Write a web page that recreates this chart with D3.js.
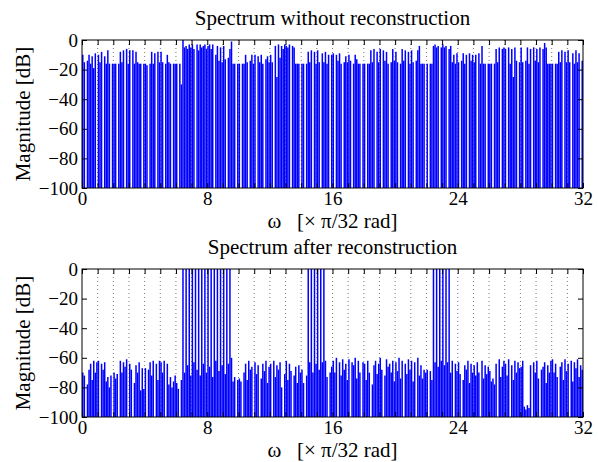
<!DOCTYPE html>
<html lang="en">
<head>
<meta charset="utf-8">
<title>Spectrum</title>
<script src="https://d3js.org/d3.v7.min.js"></script>
<style>
    body { margin: 0; background: #fff; }
    text { font-family: "Liberation Serif", "Times New Roman", serif; fill: #000; }
</style>
</head>
<body>
<script>
var w = 598;
var h = 462;
var left = 82, right = 583;
var panelTops = [40, 269];
var panelH = 148;

var titles = ["Spectrum without reconstruction", "Spectrum after reconstruction"];
var xLabel = "\u03c9   [\u00d7 \u03c0/32 rad]";
var yLabel = "Magnitude [dB]";
var xTickLabels = [0, 8, 16, 24, 32];
var yTicks = [-100, -80, -60, -40, -20, 0];
var binsPerUnit = 10;

// magnitude in dB, one row per unit of pi/32 rad, null = below -100 dB
var magBefore = [
    [-10,-15,null,-14,-10,-16,-11,-19,-9,null],
    [-10,-15,-8,null,-11,-16,-7,-16,null,-16],
    [-16,-16,null,-16,-8,-15,-7,null,-6,-16],
    [-7,null,-7,-16,-8,-15,-16,-16,null,-16],
    [-16,-17,null,-16,-8,-16,-9,null,-8,-15],
    [-8,-15,null,-16,-10,-15,-16,null,-16,-16],
    [-16,null,-16,-30,0,-5,-4,-6,-3,-5],
    [-3,-6,null,-3,-7,-3,-5,-4,-3,-6],
    [-4,-3,-6,-3,null,-10,-4,-14,-5,-15],
    [-4,-13,null,-12,-6,-1,-16,-16,null,-16],
    [-16,null,-16,-16,-10,-15,null,-14,-10,-16],
    [-10,null,-11,-15,-10,-16,null,-13,-11,-15],
    [-10,-15,null,-4,-25,-3,-12,-4,-6,-3],
    [-4,-5,-3,null,-4,-5,-16,-16,-16,null],
    [-16,-16,null,-16,-8,-15,-7,null,-8,-16],
    [-7,-15,null,-9,-15,-8,-16,-10,null,-10],
    [-9,null,-10,-14,-9,-16,null,-15,-11,-15],
    [-10,-14,null,-16,-10,-13,-16,-16,null,-16],
    [-16,null,-16,-16,-7,-15,-6,null,-8,-15],
    [-6,null,-7,-14,-8,-16,null,-15,-6,-14],
    [-8,-15,null,-16,-6,-14,-7,null,-8,-16],
    [-7,-15,null,-14,-7,-4,-16,-16,-16,null],
    [-16,null,-16,-16,-4,-3,-5,-4,null,-5],
    [-3,-5,-4,null,-6,-4,-15,-10,-16,-9],
    [-15,null,-14,-9,-16,-10,null,-9,-14,-10],
    [-15,-10,null,-9,-16,-4,-16,-16,null,-16],
    [-16,-16,null,-16,-6,-15,-5,null,-6,-5],
    [-6,null,-5,-16,-6,-25,-5,-14,null,-15],
    [-5,-15,null,-14,-5,-16,-6,null,-5,-14],
    [-6,-15,-5,null,-6,-2,-5,-16,-16,-16],
    [-16,null,-16,-16,-8,-15,-7,null,-8,-15],
    [-7,-15,null,-9,-16,-7,-15,-9,null,-14]
];

var magAfter = [
    [-70,-72,null,-78,-68,-64,-75,-62,-70,-63],
    [-62,null,-64,-68,-63,-76,-73,-80,-72,null],
    [-70,-74,-71,null,-62,-70,-63,-66,-61,null],
    [-64,-68,null,-77,-65,-70,-63,-82,-67,-81],
    [-67,null,-68,-63,-72,-62,null,-64,-75,-62],
    [-63,-70,-62,null,-64,-78,-73,-80,-76,-72],
    [-77,-81,null,-75,0,-70,0,-65,0,-72],
    [0,-63,0,-68,0,-72,0,-64,0,-70],
    [0,-66,0,-73,0,-62,0,-69,0,-65],
    [0,-71,0,-64,0,-60,-76,-73,null,-75],
    [-74,-76,null,-70,-64,-75,-62,-68,-66,null],
    [-63,-71,-65,null,-74,-64,-69,-62,-77,-66],
    [-64,null,-62,-73,-65,-68,-63,-80,null,-71],
    [-62,-75,-64,-69,null,-72,-66,-77,-65,-70],
    [-68,-77,null,-72,0,-63,0,-70,0,-64],
    [0,-68,0,-63,0,-62,-73,null,-70,-66],
    [-62,-70,-60,null,-63,-72,-61,-68,-64,-75],
    [-61,null,-63,-65,-60,-74,-62,-70,null,-63],
    [-64,-75,-62,-70,null,-78,-65,-62,-71,-64],
    [-60,-68,null,-72,-61,-66,-64,-70,-62,-76],
    [-63,-69,-60,-74,-62,null,-64,-71,-61,-68],
    [-62,-76,-63,null,-60,-72,-65,-74,-68,-70],
    [-68,null,-69,-75,0,-63,0,-66,0,-62],
    [0,-65,0,-63,0,-70,-62,null,-64,-69],
    [-63,-71,null,-75,-65,-68,-62,-77,-64,-70],
    [-65,-72,-63,-70,null,-62,-74,-65,-71,-66],
    [-69,-76,-74,-78,-64,null,-61,-73,-66,-62],
    [-64,-72,-61,null,-65,-75,-62,-70,-63,-67],
    [-66,-62,-93,-95,-92,-94,-65,null,-63,-70],
    [-62,-74,null,-68,-66,-63,-77,-65,-70,-62],
    [-61,-70,-64,-73,null,-66,-63,-75,-61,-69],
    [-64,null,-62,-76,-63,-67,-61,-73,-65,-68]
];

var svg = d3.select("body")
    .append("svg")
    .attr("width", w)
    .attr("height", h);

var x = d3.scaleLinear().domain([0, 32]).range([left, right]);

function toPoints(rows) {
    var pts = [];
    rows.forEach(function(row, k) {
        row.forEach(function(v, j) {
            if (v !== null) pts.push({ omega: k + (j + 0.5) / binsPerUnit, db: v });
        });
    });
    return pts;
}

function drawPanel(idx, rows) {
    var top = panelTops[idx];
    var y = d3.scaleLinear().domain([-100, 0]).range([top + panelH, top]);
    var g = svg.append("g");

    g.append("clipPath").attr("id", "clip" + idx)
        .append("rect")
        .attr("x", left).attr("y", top)
        .attr("width", right - left).attr("height", panelH);

    // dotted vertical grid
    g.append("g").selectAll("line")
        .data(d3.range(1, 32))
        .enter().append("line")
        .attr("x1", function(d) { return x(d); })
        .attr("x2", function(d) { return x(d); })
        .attr("y1", top).attr("y2", top + panelH)
        .attr("stroke", "#777")
        .attr("stroke-width", 1)
        .attr("stroke-dasharray", "1,3");

    g.append("g").attr("clip-path", "url(#clip" + idx + ")")
        .selectAll("line")
        .data(toPoints(rows))
        .enter().append("line")
        .attr("x1", function(d) { return x(d.omega); })
        .attr("x2", function(d) { return x(d.omega); })
        .attr("y1", y(-100))
        .attr("y2", function(d) { return y(d.db); })
        .attr("stroke", "#0000ff")
        .attr("stroke-width", 1.5);

    g.append("g")
        .attr("transform", "translate(0," + (top + panelH) + ")")
        .call(d3.axisBottom(x)
            .tickValues(d3.range(0, 33))
            .tickSize(-5)
            .tickPadding(3)
            .tickFormat(function(d) { return xTickLabels.indexOf(d) >= 0 ? d : ""; }));
    g.append("g")
        .attr("transform", "translate(0," + top + ")")
        .call(d3.axisTop(x).tickValues(d3.range(0, 33)).tickSize(-5).tickFormat(""));
    g.append("g")
        .attr("transform", "translate(" + left + ",0)")
        .call(d3.axisLeft(y).tickValues(yTicks).tickSize(-5).tickPadding(4));
    g.append("g")
        .attr("transform", "translate(" + right + ",0)")
        .call(d3.axisRight(y).tickValues(yTicks).tickSize(-5).tickFormat(""));

    g.selectAll(".domain").remove();
    g.selectAll(".tick line").attr("stroke", "#000");
    g.selectAll(".tick text")
        .style("font-family", "Liberation Serif")
        .style("font-size", "19px");

    g.append("rect")
        .attr("x", left).attr("y", top)
        .attr("width", right - left).attr("height", panelH)
        .attr("fill", "none").attr("stroke", "#000").attr("stroke-width", 1);

    g.append("text")
        .attr("x", (left + right) / 2).attr("y", top - 15)
        .attr("text-anchor", "middle")
        .style("font-size", "21px")
        .text(titles[idx]);

    g.append("text")
        .attr("x", (left + right) / 2).attr("y", top + panelH + 40)
        .attr("text-anchor", "middle")
        .style("font-size", "21px")
        .style("white-space", "pre")
        .text(xLabel);

    g.append("text")
        .attr("transform", "translate(30," + (top + panelH / 2) + ") rotate(-90)")
        .attr("text-anchor", "middle")
        .style("font-size", "21px")
        .text(yLabel);
}

drawPanel(0, magBefore);
drawPanel(1, magAfter);
</script>
</body>
</html>
